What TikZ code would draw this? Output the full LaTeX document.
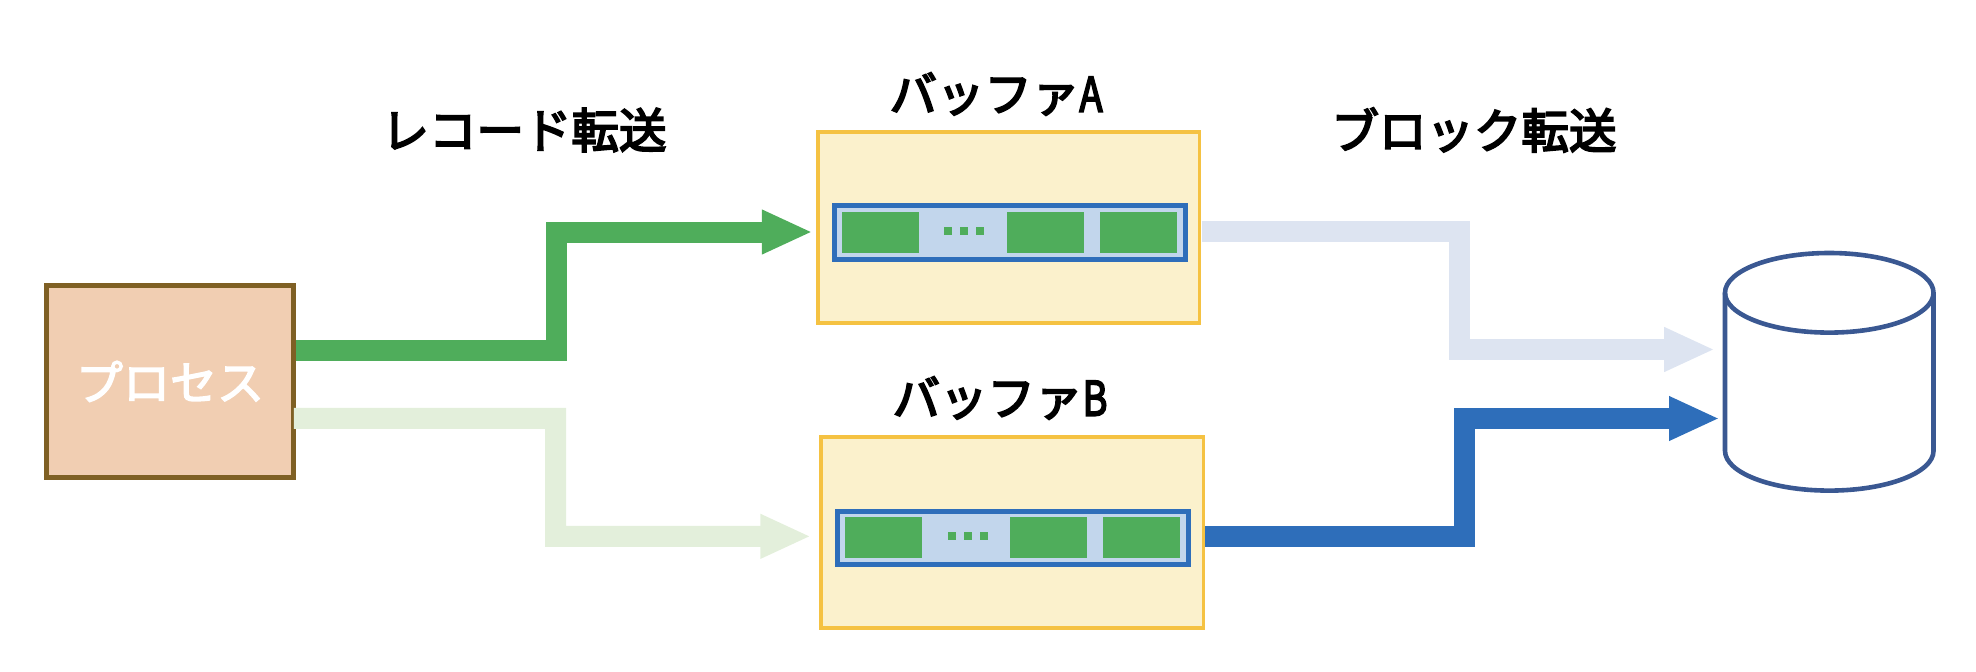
\documentclass[tikz,border=0pt]{standalone}
\usepackage{fontspec}
\setmainfont{Noto Sans CJK JP}
\newfontfamily\labf[FakeBold=4]{Noto Sans CJK JP}
\newfontfamily\procf[FakeBold=3]{Noto Sans CJK JP}
\usetikzlibrary{arrows.meta}
\definecolor{gr}{HTML}{4FAD5B}
\definecolor{lgr}{HTML}{E3EFDB}
\definecolor{bl}{HTML}{2E6EBA}
\definecolor{lbl}{HTML}{DDE4F1}
\definecolor{bufy}{HTML}{FBF1CC}
\definecolor{bufs}{HTML}{F5C242}
\definecolor{inn}{HTML}{C2D6EC}
\definecolor{prf}{HTML}{F1CEB2}
\definecolor{prs}{HTML}{7F6024}
\definecolor{cyls}{HTML}{3A5892}
\tikzset{
  base/.style={rectangle,inner sep=0pt,outer sep=0pt,anchor=center},
  procbox/.style={base,draw=prs,fill=prf,line width=5pt,minimum width=247.1pt,minimum height=192.2pt,text=white,font=\procf\fontsize{47}{50}\selectfont},
  bufbox/.style={base,draw=bufs,fill=bufy,line width=3.8pt},
  innerbox/.style={base,draw=bl,fill=inn,line width=5pt},
  cell/.style={base,fill=gr,minimum width=77.2pt,minimum height=41pt},
  dotbox/.style={base,fill=gr,minimum width=8pt,minimum height=7.7pt},
  lab/.style={base,font=\labf\fontsize{47.5}{50}\selectfont,text=black},
  conn/.style={line width=21pt,line join=miter,line cap=butt,-{Triangle[length=50.6pt,width=41pt]}}
}
\newcommand{\nA}{\scalebox{0.8}[1]{A}}
\newcommand{\nB}{\scalebox{0.8}[1]{B}}
\begin{document}
\begin{tikzpicture}[x=1pt,y=-1pt]
\useasboundingbox (0,0) rectangle (1976,672);
% process
\node[procbox] (proc) at (170.05,381.4) {プロセス};
% buffer A
\node[bufbox,minimum width=381.5pt,minimum height=191pt] (bufA) at (1008.75,227.5) {};
\node[innerbox,minimum width=351pt,minimum height=53.6pt] (innA) at (1009.5,232.5) {};
\node[cell] (a1) at (880.6,232.4) {};
\node[cell] (a2) at (1045.4,232.4) {};
\node[cell] (a3) at (1138.4,232.4) {};
\node[dotbox] (ad1) at (948,231.2) {};
\node[dotbox] (ad2) at (964,231.2) {};
\node[dotbox] (ad3) at (980,231.2) {};
% buffer B
\node[bufbox,minimum width=382.1pt,minimum height=191.3pt] (bufB) at (1012.35,532.65) {};
\node[innerbox,minimum width=351.4pt,minimum height=53.7pt] (innB) at (1013,537.85) {};
\node[cell] (b1) at (883.6,537.5) {};
\node[cell] (b2) at (1048.5,537.5) {};
\node[cell] (b3) at (1141.5,537.5) {};
\node[dotbox] (bd1) at (951.9,536.2) {};
\node[dotbox] (bd2) at (968,536.2) {};
\node[dotbox] (bd3) at (984,536.2) {};
% storage
\node[base,minimum width=208.5pt,minimum height=237.6pt] (store) at (1829.25,371.8) {};
\draw[cyls,line width=4.6pt,fill=white] (store.north) ++(0,39.8) ellipse [x radius=104.25pt,y radius=39.8pt];
\draw[cyls,line width=4.6pt] ([yshift=-39.8pt]store.north west) -- ([yshift=39.8pt]store.south west)
  arc[start angle=180,end angle=360,x radius=104.25pt,y radius=39.8pt] -- ([yshift=-39.8pt]store.north east);
% connectors
\draw[conn,gr] ([xshift=2.3pt,yshift=30.9pt]proc.east) -- (556.5,350.5) |- ([xshift=-21.5pt,yshift=0.5pt]innA.west);
\draw[conn,lgr] ([xshift=0.2pt,yshift=-36.9pt]proc.east) -- (555.6,418.3) |- ([xshift=-26.3pt,yshift=1.5pt]innB.west);
\draw[conn,lbl] ([xshift=2pt,yshift=-4pt]bufA.east) -- (1459.5,231.5) |- ([xshift=-10.2pt,yshift=22.3pt]store.west);
\draw[conn,bl] ([xshift=2pt,yshift=-3.85pt]bufB.east) -- (1464.6,536.5) |- ([xshift=-5.4pt,yshift=-46.7pt]store.west);
% labels
\node[lab] (t1) at (524,130) {レコード転送};
\node[lab] (t2) at (1474,130) {ブロック転送};
\node[lab] (t3) at (996,94) {バッファ\nA};
\node[lab] (t4) at (1000,398) {バッファ\nB};
\end{tikzpicture}
\end{document}
